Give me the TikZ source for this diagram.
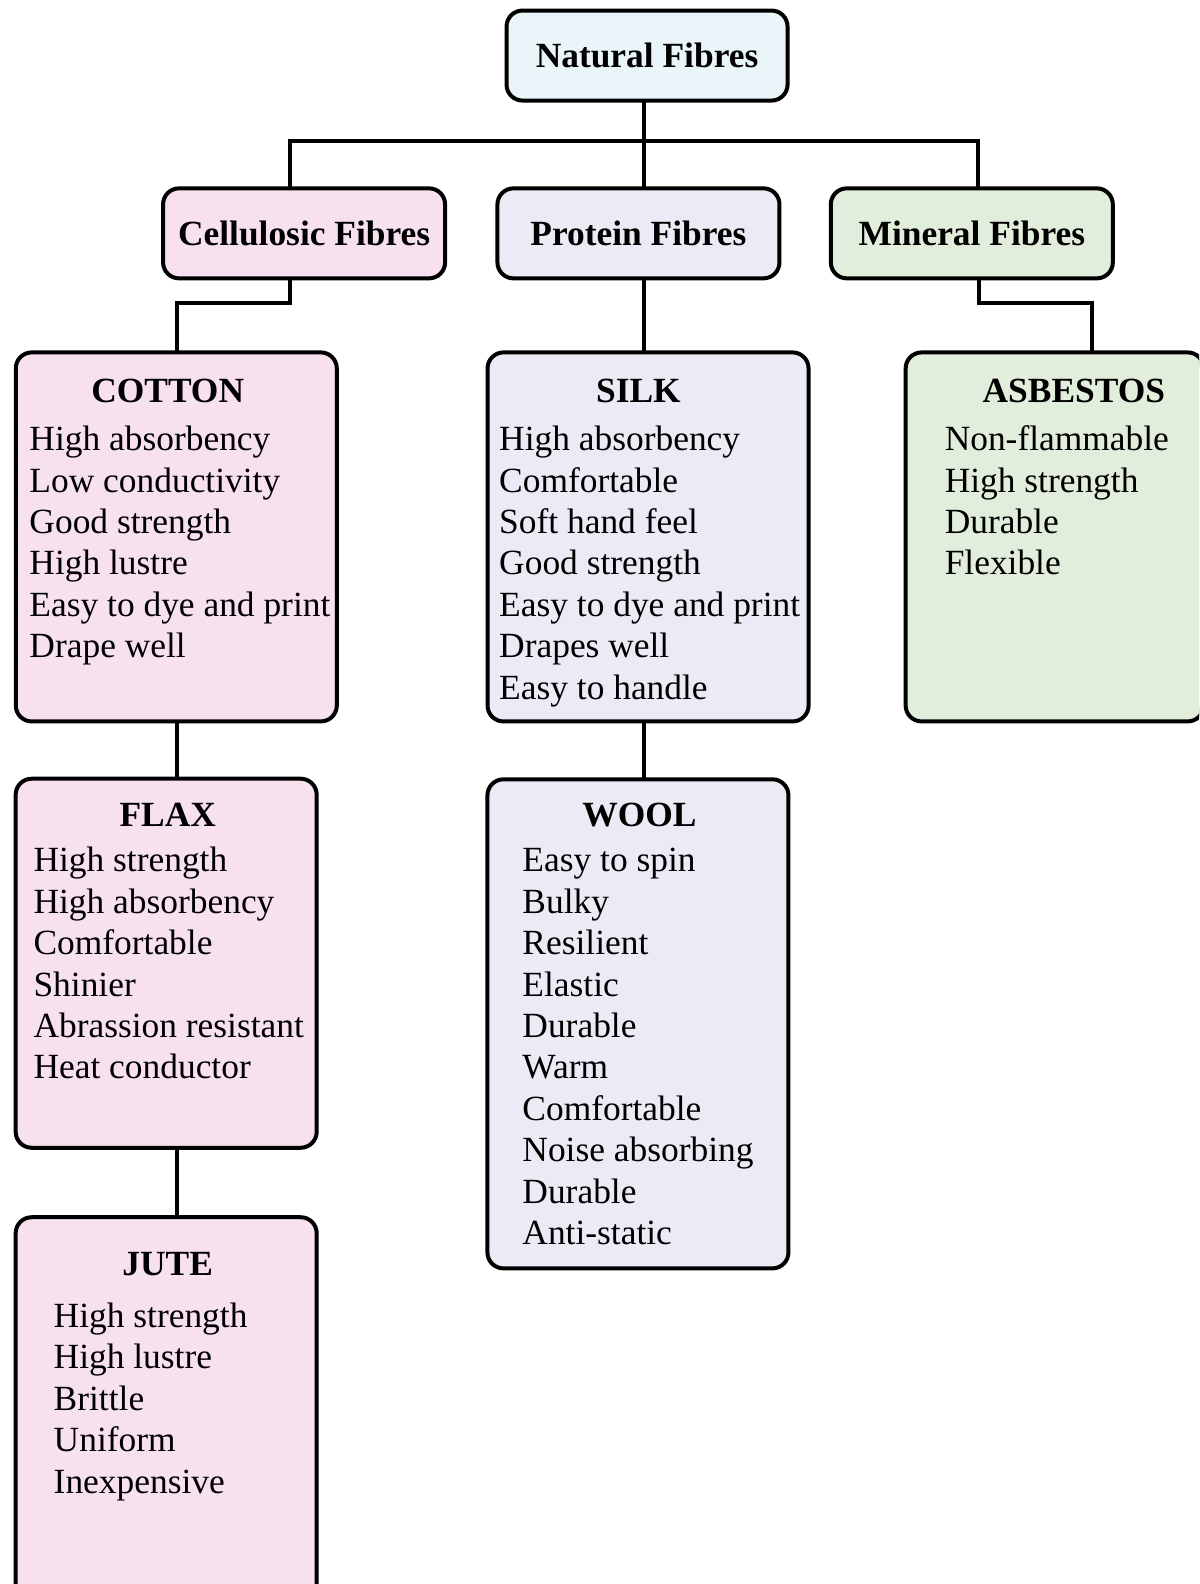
\documentclass[tikz,border=0pt]{standalone}
\usepackage{fontspec}
\setmainfont{Liberation Serif}
\definecolor{cellpink}{HTML}{F7E1EE}
\definecolor{protlav}{HTML}{ECEBF5}
\definecolor{minegreen}{HTML}{E2EEDC}
\definecolor{natcyan}{HTML}{E9F5F8}
\begin{document}
\begin{tikzpicture}[x=1.0101pt,y=-1.0101pt,
  box/.style={draw=black, line width=4pt, rounded corners=16pt, rectangle, inner sep=0pt},
  link/.style={draw=black, line width=4pt},
  head/.style={font=\fontsize{35.4}{41.4}\selectfont\bfseries, inner sep=0pt},
  items/.style={font=\fontsize{35.4}{41.4}\selectfont, align=left, inner sep=0pt, anchor=base west}
]
\useasboundingbox (0,0) rectangle (1187,1568);
\begin{scope}
\clip (0,0) rectangle (1187,1568);

% junction points of the connectors
\coordinate (jN) at (637,140);
\coordinate (jL) at (287,140);
\coordinate (jR) at (968,140);
\coordinate (kL) at (287,300);
\coordinate (kL2) at (175,300);
\coordinate (kR) at (969,300);
\coordinate (kR2) at (1081,300);

% box outlines as named shapes
\path
  node[box, minimum width=277, minimum height=86] (natural) at (640.5,55) {}
  node[box, minimum width=278, minimum height=86] (cell) at (301,231) {}
  node[box, minimum width=278, minimum height=86] (prot) at (632,231) {}
  node[box, minimum width=278, minimum height=86] (mineral) at (962,231) {}
  node[box, minimum width=317, minimum height=365] (cotton) at (174.5,531.5) {}
  node[box, minimum width=317, minimum height=365] (silk) at (641.5,531.5) {}
  node[box, minimum width=294, minimum height=365] (asb) at (1044,531.5) {}
  node[box, minimum width=297, minimum height=365] (flax) at (164.5,953.5) {}
  node[box, minimum width=297, minimum height=485] (wool) at (631.5,1013.5) {}
  node[box, minimum width=297, minimum height=381] (jute) at (164.5,1395.5) {};

% connectors
\draw[link] (natural.south -| jN) -- (prot.north -| jN);
\draw[link] (cell.north -| jL) -- (jL) -- (jR) -- (mineral.north -| jR);
\draw[link] (cell.south -| kL) -- (kL) -- (kL2) -- (cotton.north -| kL2);
\draw[link] (mineral.south -| kR) -- (kR) -- (kR2) -- (asb.north -| kR2);
\draw[link] (prot.south -| jN) -- (silk.north -| jN);
\draw[link] (silk.south -| jN) -- (wool.north -| jN);
\draw[link] (cotton.south -| kL2) -- (flax.north -| kL2);
\draw[link] (flax.south -| kL2) -- (jute.north -| kL2);

% filled boxes on top of the connector ends
\draw[box, fill=natcyan] (natural.north west) rectangle (natural.south east);
\draw[box, fill=cellpink] (cell.north west) rectangle (cell.south east);
\draw[box, fill=protlav] (prot.north west) rectangle (prot.south east);
\draw[box, fill=minegreen] (mineral.north west) rectangle (mineral.south east);
\draw[box, fill=cellpink] (cotton.north west) rectangle (cotton.south east);
\draw[box, fill=protlav] (silk.north west) rectangle (silk.south east);
\draw[box, fill=minegreen] (asb.north west) rectangle (asb.south east);
\draw[box, fill=cellpink] (flax.north west) rectangle (flax.south east);
\draw[box, fill=protlav] (wool.north west) rectangle (wool.south east);
\draw[box, fill=cellpink] (jute.north west) rectangle (jute.south east);

% headings
\node[head] (tNat) at (natural.center) {Natural Fibres};
\node[head] (tCell) at (cell.center) {Cellulosic Fibres};
\node[head] (tProt) at (prot.center) {Protein Fibres};
\node[head] (tMin) at (mineral.center) {Mineral Fibres};
\node[head, anchor=base] (tCot) at (166,398) {COTTON};
\node[head, anchor=base] (tSilk) at (632,398) {SILK};
\node[head, anchor=base] (tAsb) at (1063,398) {ASBESTOS};
\node[head, anchor=base] (tFlax) at (166,818) {FLAX};
\node[head, anchor=base] (tWool) at (633,818) {WOOL};
\node[head, anchor=base] (tJute) at (166,1263) {JUTE};

% property lists (anchored at the baseline of their last line)
\node[items] (lCot) at (29,651) {High absorbency\\Low conductivity\\Good strength\\High lustre\\Easy to dye and print\\Drape well};
\node[items] (lSilk) at (494,692) {High absorbency\\Comfortable\\Soft hand feel\\Good strength\\Easy to dye and print\\Drapes well\\Easy to handle};
\node[items] (lAsb) at (935,569) {Non-flammable\\High strength\\Durable\\Flexible};
\node[items] (lFlax) at (33,1068) {High strength\\High absorbency\\Comfortable\\Shinier\\Abrassion resistant\\Heat conductor};
\node[items] (lWool) at (517,1232) {Easy to spin\\Bulky\\Resilient\\Elastic\\Durable\\Warm\\Comfortable\\Noise absorbing\\Durable\\Anti-static};
\node[items] (lJute) at (53,1478) {High strength\\High lustre\\Brittle\\Uniform\\Inexpensive};
\end{scope}
\end{tikzpicture}
\end{document}
